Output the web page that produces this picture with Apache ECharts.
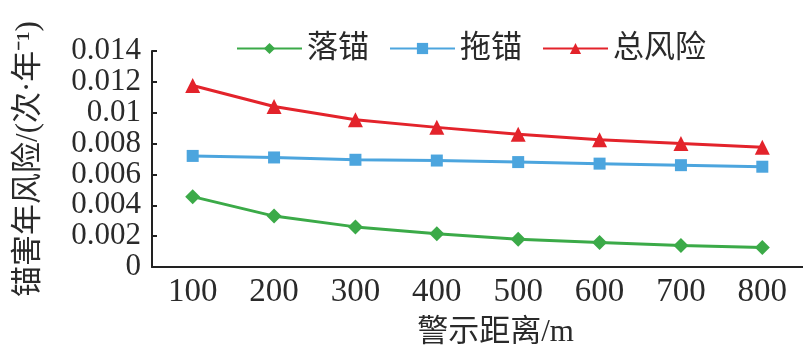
<!DOCTYPE html>
<html>
<head>
<meta charset="utf-8">
<script src="https://cdn.jsdelivr.net/npm/echarts@6/dist/echarts.min.js"></script>
<style>
html,body{margin:0;padding:0;background:#fff;}
#main{width:803px;height:357px;}
</style>
</head>
<body>
<div id="main"></div>
<script>
const categories = ['100','200','300','400','500','600','700','800'];
const seriesNames = ['落锚','拖锚','总风险'];
const dropAnchor = [0.00456, 0.0033, 0.0026, 0.00215, 0.0018, 0.00158, 0.0014, 0.00126];
const dragAnchor = [0.0072, 0.0071, 0.00695, 0.0069, 0.0068, 0.0067, 0.0066, 0.0065];
const totalRisk = [0.01176, 0.0104, 0.00955, 0.00905, 0.0086, 0.00825, 0.008, 0.00776];
const yTicks = {min: 0, max: 0.014, interval: 0.002};
const xName = '警示距离/m';
const yName = '锚害年风险/(次·年⁻¹)';

const serif = '"Liberation Serif","Times New Roman","Noto Sans CJK SC",serif';
const chart = echarts.init(document.getElementById('main'), null, {renderer:'canvas'});
const colors = ['#3BAA48', '#4CA5DE', '#E3232B'];
chart.setOption({
  animation: false,
  color: colors,
  legend: {
    left: 231, top: 28,
    itemWidth: 65, itemHeight: 14, itemGap: 20,
    textStyle: {fontFamily: serif, fontSize: 31, color: '#2a2a2a', fontWeight: 'normal'},
    data: seriesNames
  },
  grid: {left: 152, right: 0, top: 51, bottom: 90, containLabel: false},
  xAxis: {
    type: 'category',
    data: categories,
    boundaryGap: true,
    name: xName,
    nameLocation: 'middle',
    nameGap: 50,
    nameTextStyle: {fontFamily: serif, fontSize: 31, color: '#2a2a2a', padding: [0,0,0,36]},
    axisLine: {lineStyle: {color: '#222', width: 2}},
    axisTick: {inside: true, length: 5, lineStyle: {color: '#222', width: 2}},
    axisLabel: {fontFamily: serif, fontSize: 33, color: '#2a2a2a', margin: 9, hideOverlap: false}
  },
  yAxis: {
    type: 'value',
    min: yTicks.min, max: yTicks.max, interval: yTicks.interval,
    name: yName,
    nameLocation: 'middle',
    nameGap: 108,
    nameRotate: 90,
    nameTextStyle: {fontFamily: serif, fontSize: 31, color: '#2a2a2a'},
    splitLine: {show: false},
    axisLine: {show: true, lineStyle: {color: '#222', width: 2}},
    axisTick: {show: true, inside: true, length: 5, lineStyle: {color: '#222', width: 2}},
    axisLabel: {fontFamily: serif, fontSize: 31, color: '#2a2a2a', margin: 11,
                showMinLabel: true, showMaxLabel: true, hideOverlap: false}
  },
  series: [
    {name: seriesNames[0], type: 'line', data: dropAnchor, symbol: 'diamond', symbolSize: 15,
     lineStyle: {width: 3}, itemStyle: {color: colors[0]}},
    {name: seriesNames[1], type: 'line', data: dragAnchor, symbol: 'rect', symbolSize: 12,
     lineStyle: {width: 3}, itemStyle: {color: colors[1]}},
    {name: seriesNames[2], type: 'line', data: totalRisk, symbol: 'triangle', symbolSize: 15,
     lineStyle: {width: 3}, itemStyle: {color: colors[2]}}
  ]
});
</script>
</body>
</html>
